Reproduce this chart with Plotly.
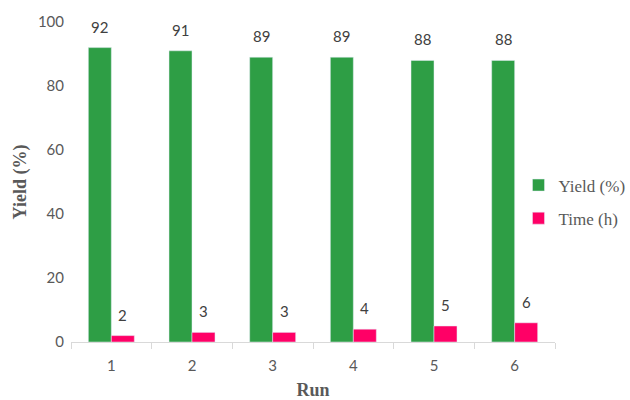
import plotly.graph_objects as go

# Recycling runs: product yield and reaction time per run
runs = ["1", "2", "3", "4", "5", "6"]
yield_pct = [92, 91, 89, 89, 88, 88]
time_h = [2, 3, 3, 4, 5, 6]

GREEN = "#2e9e45"
PINK = "#ff0066"
LABEL_FONT = dict(family="Lato, Carlito, sans-serif", size=15, color="#404040")

fig = go.Figure()
fig.add_trace(go.Bar(x=runs, y=yield_pct, name="Yield (%)", marker_color=GREEN,
                     legendgroup="yield"))
fig.add_trace(go.Bar(x=runs, y=time_h, name="Time (h)", marker_color=PINK,
                     legendgroup="time"))

# value labels above each bar (category index positions, shifted to each bar)
annotations = []
for series, shift in ((yield_pct, -11.5), (time_h, 11.5)):
    for i, v in enumerate(series):
        annotations.append(dict(
            x=i, y=v, xref="x", yref="y", text=str(v), showarrow=False,
            xshift=shift, yshift=10, yanchor="bottom", font=LABEL_FONT,
        ))

fig.update_layout(
    width=630, height=400,
    margin=dict(l=71, r=75, t=22, b=58, autoexpand=False),
    paper_bgcolor="white", plot_bgcolor="white",
    barmode="group", bargap=0.43, bargroupgap=0,
    annotations=annotations,
    showlegend=True,
    legend=dict(
        xref="container", yref="container",
        x=0.823, y=0.495, xanchor="left", yanchor="middle",
        font=dict(family="Liberation Serif, Times New Roman, serif", size=17, color="#595959"),
        itemwidth=30, traceorder="grouped", tracegroupgap=8,
        bgcolor="rgba(0,0,0,0)",
    ),
    xaxis=dict(
        type="category", range=[-0.5, 5.5], automargin=False,
        showline=True, linecolor="#d9d9d9", linewidth=1,
        ticks="outside", tickson="boundaries", ticklen=6, tickcolor="#d9d9d9",
        tickfont=dict(family="Lato, Carlito, sans-serif", size=15, color="#595959"),
        ticklabelstandoff=10,
        title=dict(text="<b>Run</b>", standoff=20,
                   font=dict(family="Liberation Serif, Times New Roman, serif", size=18, color="#595959")),
        showgrid=False,
    ),
    yaxis=dict(
        range=[0, 100], dtick=20, tick0=0, automargin=False,
        showline=False, showgrid=False, zeroline=False, ticks="",
        tickfont=dict(family="Lato, Carlito, sans-serif", size=15, color="#595959"),
        ticklabelstandoff=6,
        title=dict(text="<b>Yield (%)</b>", standoff=6,
                   font=dict(family="Liberation Serif, Times New Roman, serif", size=18, color="#595959")),
    ),
)

fig.write_html("out.html")
